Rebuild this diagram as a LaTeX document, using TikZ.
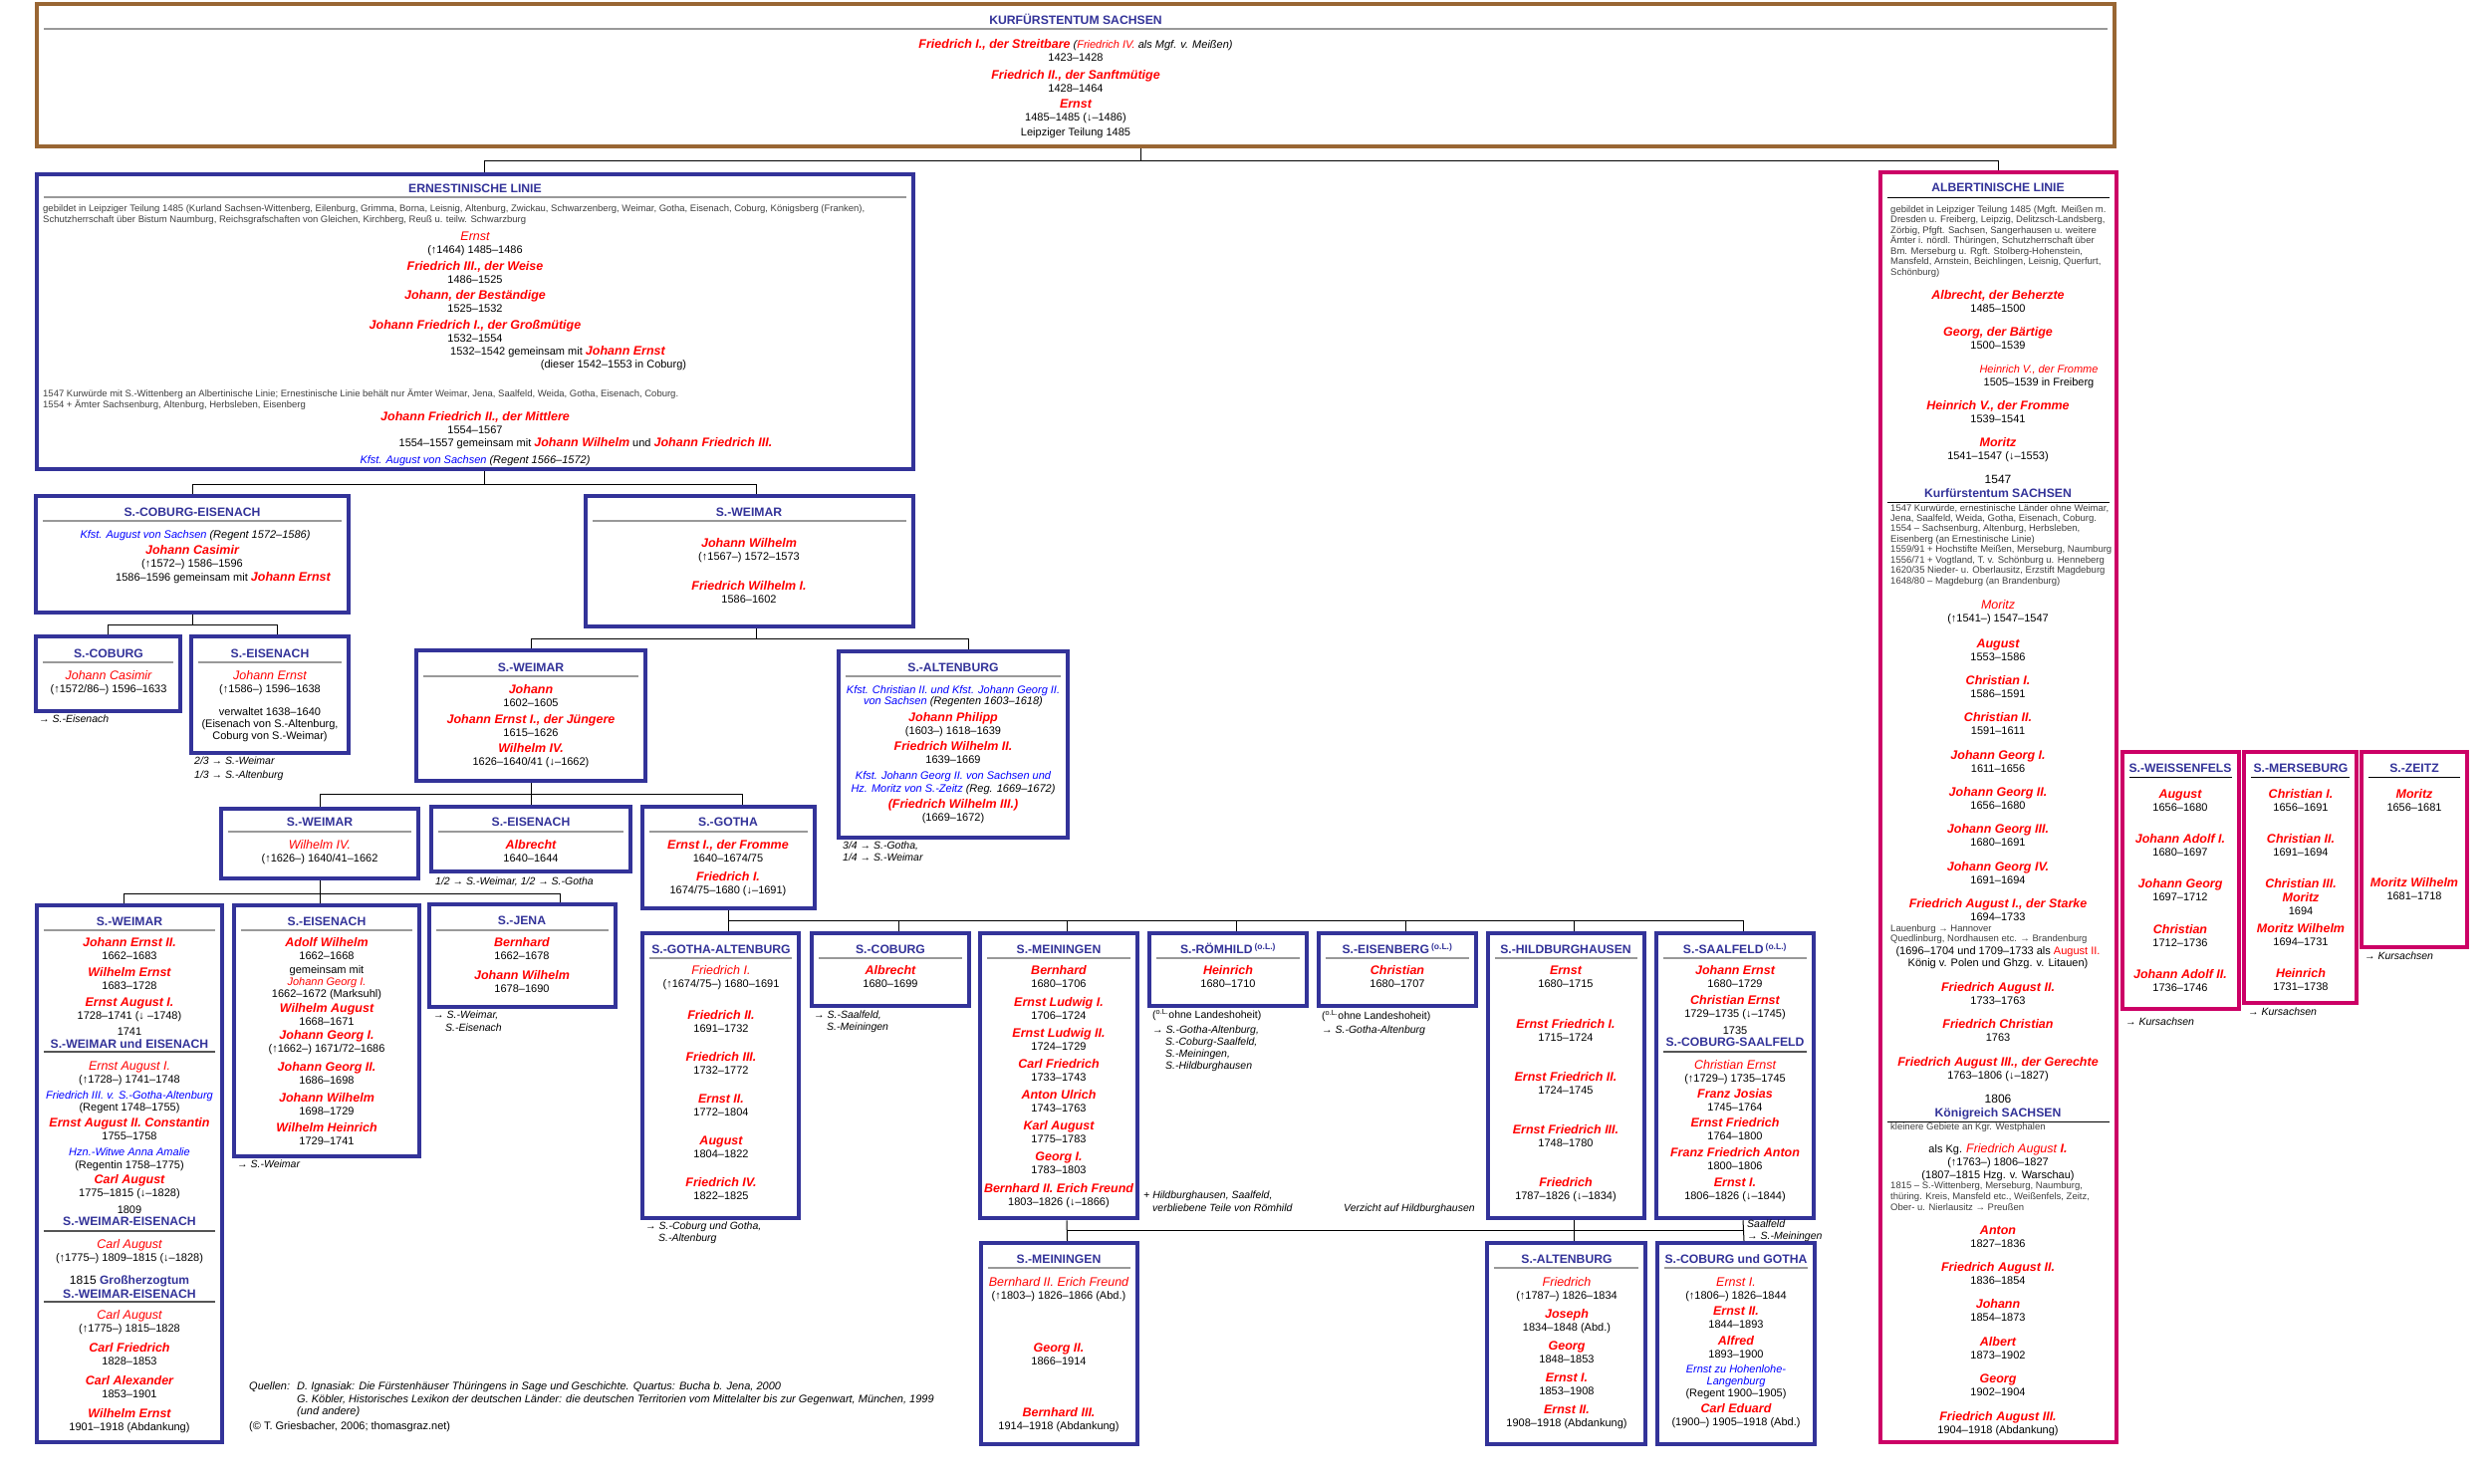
\documentclass[tikz,border=0pt]{standalone}
\usepackage{fontspec}
\setmainfont{Liberation Sans}
\usetikzlibrary{fit,calc}
\definecolor{navy}{HTML}{333399}
\definecolor{brownf}{HTML}{996633}
\definecolor{pinkf}{HTML}{CC0066}
\definecolor{namered}{HTML}{FF0000}
\definecolor{regblue}{HTML}{0000FF}
\definecolor{greytxt}{HTML}{404040}
\definecolor{rulegrey}{HTML}{999999}
\definecolor{darkrule}{HTML}{555555}
\newcounter{zl}
\newcommand{\zeile}[4][dt]{\stepcounter{zl}\node[#1] (z\thezl) at (#2,#3) {#4};}
\newcommand{\ent}[4]{\zeile[nm]{#1}{#2}{#3}\zeile{#1}{#2+13.5}{#4}}
\newcommand{\entt}[4]{\zeile[nt]{#1}{#2}{#3}\zeile{#1}{#2+13.5}{#4}}
\newcommand{\N}[1]{{\fontsize{12.5}{14}\selectfont\bfseries\itshape\color{namered}#1}}
\newcommand{\regel}[3][hr]{\draw[#1] ($(#2.west |- 0,#3)+(9,0)$) -- ($(#2.east |- 0,#3)+(-9,0)$);}

\begin{document}
\begin{tikzpicture}[x=1pt,y=-1pt,
    frm/.style={draw=navy,line width=4.5pt,inner sep=0pt},
    frmp/.style={draw=pinkf,line width=4.5pt,inner sep=0pt},
    frmb/.style={draw=brownf,line width=4pt,inner sep=0pt},
    cn/.style={draw=black,line width=1pt},
    hr/.style={draw=rulegrey,line width=1.8pt},
    hrd/.style={draw=darkrule,line width=1.8pt},
    hrb/.style={draw=black,line width=0.8pt},
    zbase/.style={anchor=base,inner sep=0pt},
    ttl/.style={zbase,yshift=-4.4pt,text=navy,font=\fontsize{12.2}{14}\selectfont\bfseries},
    nm/.style={zbase,yshift=-4.5pt,text=namered,font=\fontsize{12.5}{14}\selectfont\bfseries\itshape},
    nt/.style={zbase,yshift=-4.5pt,text=namered,font=\fontsize{12.5}{14}\selectfont\itshape},
    dt/.style={zbase,yshift=-4pt,font=\fontsize{11}{13}\selectfont},
    dtl/.style={zbase,yshift=-4.2pt,font=\fontsize{12}{14}\selectfont},
    rg/.style={zbase,yshift=-4pt,text=regblue,font=\fontsize{11}{13}\selectfont\itshape},
    nb/.style={zbase,anchor=base west,yshift=-3.8pt,font=\fontsize{10.5}{12}\selectfont\itshape},
    sm/.style={zbase,anchor=base west,yshift=-3.3pt,text=greytxt,font=\fontsize{9.5}{11}\selectfont},
    qu/.style={zbase,anchor=base west,yshift=-3.9pt,font=\fontsize{11}{13}\selectfont\itshape}]
    \fill[white] (0,0) rectangle (2500,1490);
    \useasboundingbox (0,0) rectangle (2500,1490);

    %Kurfuerstentum
    \node[frmb, fit={(37,4) (2123,147)}] (top) {};
    \zeile[ttl]{1080}{20}{KURFÜRSTENTUM SACHSEN}
    \regel{top}{29}
    \zeile{1080}{45}{\N{Friedrich I., der Streitbare} \textit{(\textcolor{namered}{Friedrich IV.} als Mgf. v. Meißen)}}
    \zeile{1080}{58}{1423–1428}
    \ent{1080}{75}{Friedrich II., der Sanftmütige}{1428–1464}
    \ent{1080}{104}{Ernst}{1485–1485 (↓–1486)}
    \zeile{1080}{133}{Leipziger Teilung 1485}

    %Ernestinische Linie
    \node[frm, fit={(37,175) (917,471)}] (ern) {};
    \zeile[ttl]{477}{189}{ERNESTINISCHE LINIE}
    \regel{ern}{198}
    \zeile[sm]{43}{209}{gebildet in Leipziger Teilung 1485 (Kurland Sachsen-Wittenberg, Eilenburg, Grimma, Borna, Leisnig, Altenburg, Zwickau, Schwarzenberg, Weimar, Gotha, Eisenach, Coburg, Königsberg (Franken),}
    \zeile[sm]{43}{220}{Schutzherrschaft über Bistum Naumburg, Reichsgrafschaften von Gleichen, Kirchberg, Reuß u. teilw. Schwarzburg}
    \entt{477}{237}{Ernst}{(↑1464) 1485–1486}
    \ent{477}{267}{Friedrich III., der Weise}{1486–1525}
    \ent{477}{296}{Johann, der Beständige}{1525–1532}
    \ent{477}{326}{Johann Friedrich I., der Großmütige}{1532–1554}
    \zeile{560}{352}{1532–1542 gemeinsam mit \N{Johann Ernst}}
    \zeile{616}{365}{(dieser 1542–1553 in Coburg)}
    \zeile[sm]{43}{395}{1547 Kurwürde mit S.-Wittenberg an Albertinische Linie; Ernestinische Linie behält nur Ämter Weimar, Jena, Saalfeld, Weida, Gotha, Eisenach, Coburg.}
    \zeile[sm]{43}{406}{1554 + Ämter Sachsenburg, Altenburg, Herbsleben, Eisenberg}
    \ent{477}{418}{Johann Friedrich II., der Mittlere}{1554–1567}
    \zeile{588}{444}{1554–1557 gemeinsam mit \N{Johann Wilhelm} und \N{Johann Friedrich III.}}
    \zeile[rg]{477}{461}{Kfst. August von Sachsen \textcolor{black}{(Regent 1566–1572)}}

    %S.-Coburg-Eisenach
    \node[frm, fit={(36,498) (350,615)}] (cobe) {};
    \zeile[ttl]{193}{514}{S.-COBURG-EISENACH}
    \regel{cobe}{523}
    \zeile[rg]{196}{536}{Kfst. August von Sachsen \textcolor{black}{(Regent 1572–1586)}}
    \ent{193}{552}{Johann Casimir}{(↑1572–) 1586–1596}
    \zeile{224}{579}{1586–1596 gemeinsam mit \N{Johann Ernst}}

    %S.-Coburg
    \node[frm, fit={(36,639) (181,714)}] (cob) {};
    \zeile[ttl]{109}{656}{S.-COBURG}
    \regel{cob}{665}
    \entt{109}{678}{Johann Casimir}{(↑1572/86–) 1596–1633}
    \zeile[nb]{39}{722}{→ S.-Eisenach}

    %S.-Eisenach
    \node[frm, fit={(192,639) (350,756)}] (eisa) {};
    \zeile[ttl]{271}{656}{S.-EISENACH}
    \regel{eisa}{665}
    \entt{271}{678}{Johann Ernst}{(↑1586–) 1596–1638}
    \zeile{271}{714}{verwaltet 1638–1640}
    \zeile{271}{726}{(Eisenach von S.-Altenburg,}
    \zeile{271}{738}{Coburg von S.-Weimar)}
    \zeile[nb]{195}{764}{2/3 → S.-Weimar}
    \zeile[nb]{195}{778}{1/3 → S.-Altenburg}

    %S.-Weimar 1572
    \node[frm, fit={(588,498) (917,629)}] (weia) {};
    \zeile[ttl]{752}{514}{S.-WEIMAR}
    \regel{weia}{523}
    \ent{752}{545}{Johann Wilhelm}{(↑1567–) 1572–1573}
    \ent{752}{588}{Friedrich Wilhelm I.}{1586–1602}

    %S.-Weimar 1602
    \node[frm, fit={(418,653) (648,784)}] (weib) {};
    \zeile[ttl]{533}{670}{S.-WEIMAR}
    \regel{weib}{679}
    \ent{533}{692}{Johann}{1602–1605}
    \ent{533}{722}{Johann Ernst I., der Jüngere}{1615–1626}
    \ent{533}{751}{Wilhelm IV.}{1626–1640/41 (↓–1662)}

    %S.-Altenburg 1603
    \node[frm, fit={(842,654) (1072,841)}] (alta) {};
    \zeile[ttl]{957}{670}{S.-ALTENBURG}
    \regel{alta}{679}
    \zeile[rg]{957}{692}{Kfst. Christian II. und Kfst. Johann Georg II.}
    \zeile[rg]{957}{703}{von Sachsen \textcolor{black}{(Regenten 1603–1618)}}
    \ent{957}{720}{Johann Philipp}{(1603–) 1618–1639}
    \ent{957}{749}{Friedrich Wilhelm II.}{1639–1669}
    \zeile[rg]{957}{778}{Kfst. Johann Georg II. von Sachsen und}
    \zeile[rg]{957}{791}{Hz. Moritz von S.-Zeitz \textcolor{black}{(Reg. 1669–1672)}}
    \ent{957}{807}{(Friedrich Wilhelm III.)}{(1669–1672)}
    \zeile[nb]{846}{849}{3/4 → S.-Gotha,}
    \zeile[nb]{846}{861}{1/4 → S.-Weimar}

    %S.-Weimar 1640
    \node[frm, fit={(222,812) (420,882)}] (weic) {};
    \zeile[ttl]{321}{825}{S.-WEIMAR}
    \regel{weic}{835}
    \entt{321}{848}{Wilhelm IV.}{(↑1626–) 1640/41–1662}

    %S.-Eisenach 1640
    \node[frm, fit={(433,810) (633,875)}] (eisb) {};
    \zeile[ttl]{533}{825}{S.-EISENACH}
    \regel{eisb}{835}
    \ent{533}{848}{Albrecht}{1640–1644}
    \zeile[nb]{437}{885}{1/2 → S.-Weimar, 1/2 → S.-Gotha}

    %S.-Gotha
    \node[frm, fit={(645,810) (818,912)}] (got) {};
    \zeile[ttl]{731}{825}{S.-GOTHA}
    \regel{got}{835}
    \ent{731}{848}{Ernst I., der Fromme}{1640–1674/75}
    \ent{731}{880}{Friedrich I.}{1674/75–1680 (↓–1691)}

    %S.-Weimar 1662
    \node[frm, fit={(37,909) (223,1448)}] (weid) {};
    \zeile[ttl]{130}{925}{S.-WEIMAR}
    \regel{weid}{934}
    \ent{130}{946}{Johann Ernst II.}{1662–1683}
    \ent{130}{976}{Wilhelm Ernst}{1683–1728}
    \ent{130}{1006}{Ernst August I.}{1728–1741 (↓ –1748)}
    \zeile{130}{1035}{1741}
    \zeile[ttl]{130}{1048}{S.-WEIMAR und EISENACH}
    \regel[hrd]{weid}{1056}
    \entt{130}{1070}{Ernst August I.}{(↑1728–) 1741–1748}
    \zeile[rg]{130}{1099}{Friedrich III. v. S.-Gotha-Altenburg}
    \zeile{130}{1111}{(Regent 1748–1755)}
    \ent{130}{1127}{Ernst August II. Constantin}{1755–1758}
    \zeile[rg]{130}{1156}{Hzn.-Witwe Anna Amalie}
    \zeile{130}{1169}{(Regentin 1758–1775)}
    \ent{130}{1184}{Carl August}{1775–1815 (↓–1828)}
    \zeile{130}{1214}{1809}
    \zeile[ttl]{130}{1226}{S.-WEIMAR-EISENACH}
    \regel[hrd]{weid}{1236}
    \entt{130}{1249}{Carl August}{(↑1775–) 1809–1815 (↓–1828)}
    \zeile[dtl]{130}{1285}{1815 \textcolor{navy}{\bfseries Großherzogtum}}
    \zeile[ttl]{130}{1299}{S.-WEIMAR-EISENACH}
    \regel[hrd]{weid}{1307}
    \entt{130}{1320}{Carl August}{(↑1775–) 1815–1828}
    \ent{130}{1353}{Carl Friedrich}{1828–1853}
    \ent{130}{1386}{Carl Alexander}{1853–1901}
    \ent{130}{1419}{Wilhelm Ernst}{1901–1918 (Abdankung)}

    %S.-Eisenach 1662
    \node[frm, fit={(235,909) (421,1161)}] (eisc) {};
    \zeile[ttl]{328}{925}{S.-EISENACH}
    \regel{eisc}{934}
    \ent{328}{946}{Adolf Wilhelm}{1662–1668}
    \zeile{328}{973}{gemeinsam mit}
    \zeile[nt]{328}{985}{\fontsize{11}{13}\selectfont Johann Georg I.}
    \zeile{328}{997}{1662–1672 (Marksuhl)}
    \ent{328}{1012}{Wilhelm August}{1668–1671}
    \ent{328}{1039}{Johann Georg I.}{(↑1662–) 1671/72–1686}
    \ent{328}{1071}{Johann Georg II.}{1686–1698}
    \ent{328}{1102}{Johann Wilhelm}{1698–1729}
    \ent{328}{1132}{Wilhelm Heinrich}{1729–1741}
    \zeile[nb]{238}{1169}{→ S.-Weimar}

    %S.-Jena
    \node[frm, fit={(431,908) (618,1011)}] (jen) {};
    \zeile[ttl]{524}{924}{S.-JENA}
    \regel{jen}{934}
    \ent{524}{946}{Bernhard}{1662–1678}
    \ent{524}{979}{Johann Wilhelm}{1678–1690}
    \zeile[nb]{435}{1019}{→ S.-Weimar,}
    \zeile[nb]{447}{1032}{S.-Eisenach}

    %S.-Gotha-Altenburg
    \node[frm, fit={(645,937) (802,1223)}] (sga) {};
    \zeile[ttl]{724}{953}{S.-GOTHA-ALTENBURG}
    \regel{sga}{962}
    \entt{724}{974}{Friedrich I.}{(↑1674/75–) 1680–1691}
    \ent{724}{1019}{Friedrich II.}{1691–1732}
    \ent{724}{1061}{Friedrich III.}{1732–1772}
    \ent{724}{1103}{Ernst II.}{1772–1804}
    \ent{724}{1145}{August}{1804–1822}
    \ent{724}{1187}{Friedrich IV.}{1822–1825}
    \zeile[nb]{648}{1231}{→ S.-Coburg und Gotha,}
    \zeile[nb]{661}{1243}{S.-Altenburg}

    %S.-Coburg 1680
    \node[frm, fit={(815,937) (973,1010)}] (cobb) {};
    \zeile[ttl]{894}{953}{S.-COBURG}
    \regel{cobb}{962}
    \ent{894}{974}{Albrecht}{1680–1699}
    \zeile[nb]{817}{1019}{→ S.-Saalfeld,}
    \zeile[nb]{830}{1031}{S.-Meiningen}

    %S.-Meiningen
    \node[frm, fit={(984,937) (1142,1223)}] (mei) {};
    \zeile[ttl]{1063}{953}{S.-MEININGEN}
    \regel{mei}{962}
    \ent{1063}{974}{Bernhard}{1680–1706}
    \ent{1063}{1006}{Ernst Ludwig I.}{1706–1724}
    \ent{1063}{1037}{Ernst Ludwig II.}{1724–1729}
    \ent{1063}{1068}{Carl Friedrich}{1733–1743}
    \ent{1063}{1099}{Anton Ulrich}{1743–1763}
    \ent{1063}{1130}{Karl August}{1775–1783}
    \ent{1063}{1161}{Georg I.}{1783–1803}
    \ent{1063}{1193}{Bernhard II. Erich Freund}{1803–1826 (↓–1866)}

    %S.-Roemhild
    \node[frm, fit={(1154,937) (1312,1010)}] (roem) {};
    \zeile[ttl]{1233}{953}{S.-RÖMHILD\,\textsuperscript{(o.L.)}}
    \regel{roem}{962}
    \ent{1233}{974}{Heinrich}{1680–1710}
    \zeile[nb]{1157}{1019}{\upshape(\textsuperscript{o.L.}ohne Landeshoheit)}
    \zeile[nb]{1157}{1034}{→ S.-Gotha-Altenburg,}
    \zeile[nb]{1170}{1046}{S.-Coburg-Saalfeld,}
    \zeile[nb]{1170}{1058}{S.-Meiningen,}
    \zeile[nb]{1170}{1070}{S.-Hildburghausen}
    \zeile[nb]{1148}{1200}{+ Hildburghausen, Saalfeld,}
    \zeile[nb]{1157}{1213}{verbliebene Teile von Römhild}

    %S.-Eisenberg
    \node[frm, fit={(1324,937) (1482,1010)}] (eisbg) {};
    \zeile[ttl]{1403}{953}{S.-EISENBERG\,\textsuperscript{(o.L.)}}
    \regel{eisbg}{962}
    \ent{1403}{974}{Christian}{1680–1707}
    \zeile[nb]{1327}{1020}{\upshape(\textsuperscript{o.L.}ohne Landeshoheit)}
    \zeile[nb]{1327}{1034}{→ S.-Gotha-Altenburg}
    \zeile[nb]{1349}{1213}{Verzicht auf Hildburghausen}

    %S.-Hildburghausen
    \node[frm, fit={(1494,937) (1651,1223)}] (hild) {};
    \zeile[ttl]{1572}{953}{S.-HILDBURGHAUSEN}
    \regel{hild}{962}
    \ent{1572}{974}{Ernst}{1680–1715}
    \ent{1572}{1028}{Ernst Friedrich I.}{1715–1724}
    \ent{1572}{1081}{Ernst Friedrich II.}{1724–1745}
    \ent{1572}{1134}{Ernst Friedrich III.}{1748–1780}
    \ent{1572}{1187}{Friedrich}{1787–1826 (↓–1834)}

    %S.-Saalfeld
    \node[frm, fit={(1663,937) (1821,1223)}] (saal) {};
    \zeile[ttl]{1742}{953}{S.-SAALFELD\,\textsuperscript{(o.L.)}}
    \regel{saal}{962}
    \ent{1742}{974}{Johann Ernst}{1680–1729}
    \ent{1742}{1004}{Christian Ernst}{1729–1735 (↓–1745)}
    \zeile{1742}{1034}{1735}
    \zeile[ttl]{1742}{1046}{S.-COBURG-SAALFELD}
    \regel[hrd]{saal}{1056}
    \entt{1742}{1069}{Christian Ernst}{(↑1729–) 1735–1745}
    \ent{1742}{1098}{Franz Josias}{1745–1764}
    \ent{1742}{1127}{Ernst Friedrich}{1764–1800}
    \ent{1742}{1157}{Franz Friedrich Anton}{1800–1806}
    \ent{1742}{1187}{Ernst I.}{1806–1826 (↓–1844)}
    \zeile[nb]{1754}{1229}{Saalfeld}
    \zeile[nb]{1754}{1241}{→ S.-Meiningen}

    %S.-Meiningen 1826
    \node[frm, fit={(985,1248) (1142,1450)}] (meib) {};
    \zeile[ttl]{1063}{1264}{S.-MEININGEN}
    \regel{meib}{1273}
    \entt{1063}{1287}{Bernhard II. Erich Freund}{(↑1803–) 1826–1866 (Abd.)}
    \ent{1063}{1353}{Georg II.}{1866–1914}
    \ent{1063}{1418}{Bernhard III.}{1914–1918 (Abdankung)}

    %S.-Altenburg 1826
    \node[frm, fit={(1493,1248) (1652,1450)}] (altb) {};
    \zeile[ttl]{1573}{1264}{S.-ALTENBURG}
    \regel{altb}{1273}
    \entt{1573}{1287}{Friedrich}{(↑1787–) 1826–1834}
    \ent{1573}{1319}{Joseph}{1834–1848 (Abd.)}
    \ent{1573}{1351}{Georg}{1848–1853}
    \ent{1573}{1383}{Ernst I.}{1853–1908}
    \ent{1573}{1415}{Ernst II.}{1908–1918 (Abdankung)}

    %S.-Coburg und Gotha
    \node[frm, fit={(1664,1248) (1822,1450)}] (cg) {};
    \zeile[ttl]{1743}{1264}{S.-COBURG und GOTHA}
    \regel{cg}{1273}
    \entt{1743}{1287}{Ernst I.}{(↑1806–) 1826–1844}
    \ent{1743}{1316}{Ernst II.}{1844–1893}
    \ent{1743}{1346}{Alfred}{1893–1900}
    \zeile[rg]{1743}{1374}{Ernst zu Hohenlohe-}
    \zeile[rg]{1743}{1386}{Langenburg}
    \zeile{1743}{1398}{(Regent 1900–1905)}
    \ent{1743}{1414}{Carl Eduard}{(1900–) 1905–1918 (Abd.)}

    %Albertinische Linie
    \node[frmp, fit={(1888,173) (2125,1448)}] (alb) {};
    \zeile[ttl]{2006}{188}{ALBERTINISCHE LINIE}
    \regel[hrb]{alb}{198}
    \zeile[sm]{1898}{210}{gebildet in Leipziger Teilung 1485 (Mgft. Meißen m.}
    \zeile[sm]{1898}{220}{Dresden u. Freiberg, Leipzig, Delitzsch-Landsberg,}
    \zeile[sm]{1898}{231}{Zörbig, Pfgft. Sachsen, Sangerhausen u. weitere}
    \zeile[sm]{1898}{241}{Ämter i. nördl. Thüringen, Schutzherrschaft über}
    \zeile[sm]{1898}{252}{Bm. Merseburg u. Rgft. Stolberg-Hohenstein,}
    \zeile[sm]{1898}{262}{Mansfeld, Arnstein, Beichlingen, Leisnig, Querfurt,}
    \zeile[sm]{1898}{273}{Schönburg)}
    \ent{2006}{296}{Albrecht, der Beherzte}{1485–1500}
    \ent{2006}{333}{Georg, der Bärtige}{1500–1539}
    \zeile[nt]{2047}{370}{\fontsize{11}{13}\selectfont Heinrich V., der Fromme}
    \zeile{2047}{383}{1505–1539 in Freiberg}
    \ent{2006}{407}{Heinrich V., der Fromme}{1539–1541}
    \ent{2006}{444}{Moritz}{1541–1547 (↓–1553)}
    \zeile[dtl]{2006}{481}{1547}
    \zeile[ttl]{2006}{495}{Kurfürstentum SACHSEN}
    \regel[hrb]{alb}{504}
    \zeile[sm]{1898}{510}{1547 Kurwürde, ernestinische Länder ohne Weimar,}
    \zeile[sm]{1898}{520}{Jena, Saalfeld, Weida, Gotha, Eisenach, Coburg.}
    \zeile[sm]{1898}{530}{1554 – Sachsenburg, Altenburg, Herbsleben,}
    \zeile[sm]{1898}{541}{Eisenberg (an Ernestinische Linie)}
    \zeile[sm]{1898}{551}{1559/91 + Hochstifte Meißen, Merseburg, Naumburg}
    \zeile[sm]{1898}{562}{1556/71 + Vogtland, T. v. Schönburg u. Henneberg}
    \zeile[sm]{1898}{572}{1620/35 Nieder- u. Oberlausitz, Erzstift Magdeburg}
    \zeile[sm]{1898}{583}{1648/80 – Magdeburg (an Brandenburg)}
    \entt{2006}{607}{Moritz}{(↑1541–) 1547–1547}
    \ent{2006}{646}{August}{1553–1586}
    \ent{2006}{683}{Christian I.}{1586–1591}
    \ent{2006}{720}{Christian II.}{1591–1611}
    \ent{2006}{758}{Johann Georg I.}{1611–1656}
    \ent{2006}{795}{Johann Georg II.}{1656–1680}
    \ent{2006}{832}{Johann Georg III.}{1680–1691}
    \ent{2006}{870}{Johann Georg IV.}{1691–1694}
    \ent{2006}{907}{Friedrich August I., der Starke}{1694–1733}
    \zeile[sm]{1898}{932}{Lauenburg → Hannover}
    \zeile[sm]{1898}{942}{Quedlinburg, Nordhausen etc. → Brandenburg}
    \zeile{2006}{954}{(1696–1704 und 1709–1733 als \textcolor{namered}{August II.}}
    \zeile{2006}{966}{König v. Polen und Ghzg. v. Litauen)}
    \ent{2006}{991}{Friedrich August II.}{1733–1763}
    \ent{2006}{1028}{Friedrich Christian}{1763}
    \ent{2006}{1066}{Friedrich August III., der Gerechte}{1763–1806 (↓–1827)}
    \zeile[dtl]{2006}{1103}{1806}
    \zeile[ttl]{2006}{1117}{Königreich SACHSEN}
    \regel[hrb]{alb}{1126}
    \zeile[sm]{1898}{1131}{kleinere Gebiete an Kgr. Westphalen}
    \zeile{2006}{1153}{als Kg. {\fontsize{12.5}{14}\selectfont\itshape\color{namered}Friedrich August \bfseries I.}}
    \zeile{2006}{1166}{(↑1763–) 1806–1827}
    \zeile{2006}{1179}{(1807–1815 Hzg. v. Warschau)}
    \zeile[sm]{1898}{1190}{1815 – S.-Wittenberg, Merseburg, Naumburg,}
    \zeile[sm]{1898}{1201}{thüring. Kreis, Mansfeld etc., Weißenfels, Zeitz,}
    \zeile[sm]{1898}{1212}{Ober- u. Nierlausitz → Preußen}
    \ent{2006}{1235}{Anton}{1827–1836}
    \ent{2006}{1272}{Friedrich August II.}{1836–1854}
    \ent{2006}{1309}{Johann}{1854–1873}
    \ent{2006}{1347}{Albert}{1873–1902}
    \ent{2006}{1384}{Georg}{1902–1904}
    \ent{2006}{1422}{Friedrich August III.}{1904–1918 (Abdankung)}

    %S.-Weissenfels
    \node[frmp, fit={(2131,755) (2248,1013)}] (wsf) {};
    \zeile[ttl]{2189}{771}{S.-WEISSENFELS}
    \regel[hrb]{wsf}{780}
    \ent{2189}{797}{August}{1656–1680}
    \ent{2189}{842}{Johann Adolf I.}{1680–1697}
    \ent{2189}{887}{Johann Georg}{1697–1712}
    \ent{2189}{933}{Christian}{1712–1736}
    \ent{2189}{978}{Johann Adolf II.}{1736–1746}
    \zeile[nb]{2134}{1026}{→ Kursachsen}

    %S.-Merseburg
    \node[frmp, fit={(2253,755) (2366,1007)}] (msb) {};
    \zeile[ttl]{2310}{771}{S.-MERSEBURG}
    \regel[hrb]{msb}{780}
    \ent{2310}{797}{Christian I.}{1656–1691}
    \ent{2310}{842}{Christian II.}{1691–1694}
    \zeile[nm]{2310}{887}{Christian III.}
    \ent{2310}{901}{Moritz}{1694}
    \ent{2310}{932}{Moritz Wilhelm}{1694–1731}
    \ent{2310}{977}{Heinrich}{1731–1738}
    \zeile[nb]{2257}{1016}{→ Kursachsen}

    %S.-Zeitz
    \node[frmp, fit={(2371,755) (2477,951)}] (ztz) {};
    \zeile[ttl]{2424}{771}{S.-ZEITZ}
    \regel[hrb]{ztz}{780}
    \ent{2424}{797}{Moritz}{1656–1681}
    \ent{2424}{886}{Moritz Wilhelm}{1681–1718}
    \zeile[nb]{2374}{960}{→ Kursachsen}

    %Quellen
    \zeile[qu]{250}{1392}{Quellen:}
    \zeile[qu]{298}{1392}{D. Ignasiak: Die Fürstenhäuser Thüringens in Sage und Geschichte. Quartus: Bucha b. Jena, 2000}
    \zeile[qu]{298}{1405}{G. Köbler, Historisches Lexikon der deutschen Länder: die deutschen Territorien vom Mittelalter bis zur Gegenwart, München, 1999}
    \zeile[qu]{298}{1417}{(und andere)}
    \zeile[qu]{250}{1432}{\upshape(© T. Griesbacher, 2006; thomasgraz.net)}

    %Verbindungen
    \draw[cn] ([xshift=65pt]top.south) -- ++(0,13) coordinate (j1);
    \draw[cn] (j1) -| ([xshift=9pt]ern.north);
    \draw[cn] (j1) -| (alb.north);
    \draw[cn] ([xshift=9pt]ern.south) -- ++(0,13) coordinate (j2);
    \draw[cn] (j2) -| (cobe.north);
    \draw[cn] (j2) -| ([xshift=7pt]weia.north);
    \draw[cn] (cobe.south) -- ++(0,10) coordinate (j3);
    \draw[cn] (j3) -| (cob.north);
    \draw[cn] (j3) -| ([xshift=7pt]eisa.north);
    \draw[cn] ([xshift=7pt]weia.south) -- ++(0,10) coordinate (j4);
    \draw[cn] (j4) -| (weib.north);
    \draw[cn] (j4) -| ([xshift=15pt]alta.north);
    \draw[cn] (weib.south) -- ++(0,11) coordinate (j5);
    \draw[cn] (j5) -| (weic.north);
    \draw[cn] (j5) -| (eisb.north);
    \draw[cn] (j5) -| ([xshift=14pt]got.north);
    \draw[cn] (weic.south) -- ++(0,13) coordinate (j6);
    \draw[cn] (j6) -| ([xshift=-6pt]weid.north);
    \draw[cn] (j6) -| ([xshift=-7pt]eisc.north);
    \draw[cn] (j6) -| ([xshift=38pt]jen.north);
    \draw[cn] (got.south) -- ++(0,10) coordinate (j7);
    \foreach \k in {sga,cobb,mei,roem,eisbg,hild,saal}
        \draw[cn] (j7) -| ([xshift=8pt]\k.north);
    \coordinate (j8) at ($(mei.south)+(8,10)$);
    \coordinate (j9) at ($(saal.south)+(8,10)$);
    \draw[cn] (j8) -- (j9);
    \draw[cn] ([xshift=8pt]mei.south) -- ([xshift=8pt]meib.north);
    \draw[cn] ([xshift=8pt]hild.south) -- ([xshift=8pt]altb.north);
    \draw[cn] ([xshift=8pt]saal.south) -- ([xshift=8pt]cg.north);
\end{tikzpicture}
\end{document}
